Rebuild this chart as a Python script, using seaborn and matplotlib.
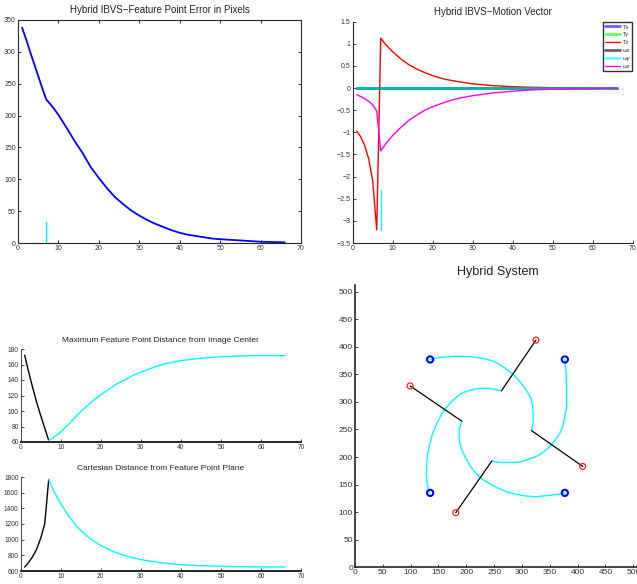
import numpy as np
import pandas as pd
import matplotlib
matplotlib.use("Agg")
import matplotlib.pyplot as plt
from matplotlib.ticker import FuncFormatter
import seaborn as sns

sns.set_style("ticks")
plt.rcParams['font.family'] = ['Liberation Sans', 'DejaVu Sans']
plt.rcParams['axes.unicode_minus'] = True

# ---------------- data ----------------
# Feature point error (pixels)
err_steps = [1, 2, 3, 4, 5, 6, 7, 8, 9, 10, 12, 14, 16, 18, 20, 22, 24, 26, 28, 30,
             32, 34, 36, 38, 40, 42, 45, 48, 50, 55, 60, 66]
err_vals = [338, 320, 300, 281, 262, 243, 225, 218, 210, 201, 181, 160, 141, 119, 102, 86,
            72, 61, 51, 43, 36, 30, 25, 20, 16, 13, 10, 7, 6, 4, 2, 1]

# Motion vector
mv_steps = [1, 2, 3, 4, 5, 6, 7, 8, 9, 10, 12, 14, 16, 18, 20, 23, 26, 30, 35, 40,
            45, 50, 55, 60, 66]
tz_vals = [-0.97, -1.1, -1.3, -1.6, -2.1, -3.2, 1.13, 1.01, 0.91, 0.82, 0.66, 0.53, 0.43,
           0.35, 0.28, 0.2, 0.15, 0.095, 0.055, 0.032, 0.018, 0.01, 0.006, 0.003, 0.001]
wz_vals = [-0.15, -0.19, -0.24, -0.3, -0.38, -0.52, -1.42, -1.29, -1.17, -1.07, -0.89,
           -0.73, -0.61, -0.5, -0.42, -0.32, -0.24, -0.17, -0.11, -0.07, -0.04, -0.025,
           -0.015, -0.008, -0.004]
zero_vals = [0.0] * len(mv_steps)
mv_labels = ['Tx', 'Ty', 'Tz', 'ωx', 'ωy', 'ωz']

# switching step markers
switch_steps = [7, 7]
err_switch_y = [0, 33]
mv_switch_y = [-3.2, -2.3]

# Maximum feature point distance from image center
md_steps_a = [1, 2, 3, 4, 5, 6, 7]
md_vals_a = [172, 150, 130, 111, 94, 78, 62]
md_steps_b = [7, 8, 10, 12, 14, 16, 18, 20, 22, 24, 26, 28, 30, 33, 36, 40, 45, 50, 55, 60, 66]
md_vals_b = [62, 65, 73, 83, 94, 104, 113, 121, 128, 135, 140, 146, 150, 156, 161, 165,
             168, 170, 171, 171.5, 171.5]

# Cartesian distance from feature point plane
cd_steps_a = [1, 2, 3, 4, 5, 6, 7]
cd_vals_a = [650, 710, 785, 880, 1020, 1200, 1770]
cd_steps_b = [7, 8, 9, 10, 12, 14, 16, 18, 20, 23, 26, 30, 35, 40, 45, 50, 55, 60, 66]
cd_vals_b = [1770, 1650, 1550, 1460, 1300, 1170, 1070, 990, 925, 850, 795, 745, 705, 680,
             667, 660, 655, 652, 651]

# Image-plane trajectories
goal_x = [135, 377, 377, 135]
goal_y = [377, 377, 135, 135]
start_x = [325, 99, 181, 409]
start_y = [412, 329, 99, 183]
switch_x = [263, 192, 246, 317]
switch_y = [320, 265, 193, 248]

arcA_x = [263, 250, 235, 218, 200, 189, 176, 165, 155, 147, 140, 135, 131, 129, 128, 129, 131, 134]
arcA_y = [320, 323, 325, 324, 319, 314, 303, 291, 277, 261, 244, 227, 207, 189, 170, 155, 145, 135]
arcB_x = [192, 187, 187, 189, 194, 200, 207, 218, 230, 240, 254, 272, 290, 310, 326, 345, 362, 377]
arcB_y = [265, 249, 235, 222, 208, 196, 183, 170, 159, 153, 145, 137, 132, 129, 128, 130, 132, 135]
arcC_x = [246, 254, 266, 280, 296, 312, 326, 340, 350, 360, 368, 374, 377, 380, 380, 380, 379, 377]
arcC_y = [193, 191, 190, 190, 191, 196, 201, 210, 219, 231, 243, 258, 273, 290, 305, 330, 355, 377]
arcD_x = [317, 320, 320, 319, 316, 311, 303, 295, 284, 270, 258, 248, 230, 207, 185, 165, 148, 135]
arcD_y = [248, 261, 279, 294, 306, 316, 328, 338, 350, 361, 369, 374, 379, 382, 383, 382, 380, 377]

# tick values
err_xticks = list(range(0, 71, 10))
err_yticks = list(range(0, 351, 50))
mv_yticks = [-3.5, -3, -2.5, -2, -1.5, -1, -0.5, 0, 0.5, 1, 1.5]
md_yticks = list(range(60, 181, 20))
cd_yticks = list(range(600, 1801, 200))
img_ticks = list(range(0, 501, 50))

# ---------------- figure ----------------
W, H = 637, 584
fig = plt.figure(figsize=(W / 100, H / 100), dpi=100)


def box(x0, y0, x1, y1):
    return [x0 / W, (H - y1) / H, (x1 - x0) / W, (y1 - y0) / H]


ax1 = fig.add_axes(box(18, 20, 301, 243))
ax2 = fig.add_axes(box(352.7, 21.7, 633, 243))
ax3 = fig.add_axes(box(20.7, 349, 301, 442))
ax4 = fig.add_axes(box(20.7, 477, 301, 571))
ax5 = fig.add_axes(box(355, 285, 640, 567.3))

fmt = FuncFormatter(lambda v, p: ('%g' % v).replace('-', '\u2212'))
tick_col = '#333333'

# --- ax1 ---
sns.lineplot(x=err_steps, y=err_vals, ax=ax1, color='#0000ff', linewidth=1.3,
             estimator=None, sort=False)
sns.lineplot(x=switch_steps, y=err_switch_y, ax=ax1, color='#00ffff', linewidth=1.0,
             estimator=None, sort=False)
ax1.set_xlim(0, 70)
ax1.set_ylim(0, 350)
ax1.set_xticks(err_xticks)
ax1.set_yticks(err_yticks)
ax1.tick_params(direction='in', top=True, right=True, length=2.5, width=0.6,
                labelsize=5, colors='black', labelcolor=tick_col, pad=1.5)
for s in ax1.spines.values():
    s.set_linewidth(0.8)
ax1.set_title('Hybrid IBVS\u2212Feature Point Error in Pixels', fontsize=7, pad=5, color='#222222')

# --- ax2 ---
mv_series = [zero_vals, zero_vals, tz_vals, zero_vals, zero_vals, wz_vals]
mv_colors = ['#0000ff', '#00ff00', '#ff0000', '#000000', '#00ffff', '#ff00ff']
mv_alpha = [0.6, 0.6, 1.0, 0.6, 0.6, 1.0]
mv_lw = [2.0, 2.0, 1.0, 2.0, 2.0, 1.0]
for vals, lab, c, a, lw in zip(mv_series, mv_labels, mv_colors, mv_alpha, mv_lw):
    sns.lineplot(x=mv_steps, y=vals, ax=ax2, color=c, alpha=a, linewidth=lw, label=lab,
                 estimator=None, sort=False)
sns.lineplot(x=switch_steps, y=mv_switch_y, ax=ax2, color='#00ffff', linewidth=1.0,
             estimator=None, sort=False)
ax2.set_xlim(0, 70)
ax2.set_ylim(-3.5, 1.5)
ax2.set_xticks(err_xticks)
ax2.set_yticks(mv_yticks)
ax2.yaxis.set_major_formatter(fmt)
ax2.tick_params(direction='in', length=2.5, width=0.6, labelsize=5, labelcolor=tick_col, pad=1.5)
ax2.spines['top'].set_visible(False)
ax2.spines['right'].set_visible(False)
for s in ['left', 'bottom']:
    ax2.spines[s].set_linewidth(0.8)
ax2.set_title('Hybrid IBVS\u2212Motion Vector', fontsize=7, pad=5, color='#222222')
leg = ax2.legend(loc='upper right', fontsize=4.3, frameon=True, fancybox=False,
                 borderaxespad=0.1, handlelength=2.4, labelspacing=0.45,
                 borderpad=0.35, handletextpad=0.5)
leg.get_frame().set_edgecolor('black')
leg.get_frame().set_linewidth(1.0)
for t in leg.get_texts():
    t.set_color('#333333')

# --- ax3 ---
sns.lineplot(x=md_steps_a, y=md_vals_a, ax=ax3, color='black', linewidth=1.0,
             estimator=None, sort=False)
sns.lineplot(x=md_steps_b, y=md_vals_b, ax=ax3, color='#00ffff', linewidth=1.0,
             estimator=None, sort=False)
ax3.set_xlim(0, 70)
ax3.set_ylim(60, 180)
ax3.set_xticks(err_xticks)
ax3.set_yticks(md_yticks)
ax3.set_title('Maximum Feature Point Distance from Image Center', fontsize=6, pad=5, color='#222222')

# --- ax4 ---
sns.lineplot(x=cd_steps_a, y=cd_vals_a, ax=ax4, color='black', linewidth=1.0,
             estimator=None, sort=False)
sns.lineplot(x=cd_steps_b, y=cd_vals_b, ax=ax4, color='#00ffff', linewidth=1.0,
             estimator=None, sort=False)
ax4.set_xlim(0, 70)
ax4.set_ylim(600, 1800)
ax4.set_xticks(err_xticks)
ax4.set_yticks(cd_yticks)
ax4.set_title('Cartesian Distance from Feature Point Plane', fontsize=6, pad=5, color='#222222')

for ax in (ax3, ax4):
    ax.tick_params(direction='in', length=2.5, width=0.6, labelsize=4.8, labelcolor=tick_col, pad=1.5)
    ax.spines['top'].set_visible(False)
    ax.spines['right'].set_visible(False)
    ax.spines['left'].set_linewidth(0.6)
    ax.spines['bottom'].set_linewidth(1.4)

# --- ax5 ---
for xs, ys in ((arcA_x, arcA_y), (arcB_x, arcB_y), (arcC_x, arcC_y), (arcD_x, arcD_y)):
    sns.lineplot(x=xs, y=ys, ax=ax5, color='#00ffff', linewidth=1.0, estimator=None, sort=False)
for i in range(len(start_x)):
    sns.lineplot(x=[start_x[i], switch_x[i]], y=[start_y[i], switch_y[i]], ax=ax5,
                 color='black', linewidth=0.9, estimator=None, sort=False)
sns.scatterplot(x=start_x, y=start_y, ax=ax5, marker='o', s=18, color='red',
                facecolor='none', edgecolor='#ff2020', linewidth=0.9, zorder=5)
sns.scatterplot(x=goal_x, y=goal_y, ax=ax5, marker='o', s=20, color='blue',
                facecolor='none', edgecolor='#0000ff', linewidth=1.5, zorder=5)
ax5.set_xlim(0, 512)
ax5.set_ylim(0, 512)
ax5.set_xticks(img_ticks)
ax5.set_yticks(img_ticks)
ax5.tick_params(direction='in', length=2.5, width=0.6, labelsize=6, labelcolor=tick_col, pad=1.5)
ax5.spines['top'].set_visible(False)
ax5.spines['right'].set_visible(False)
ax5.spines['left'].set_linewidth(1.2)
ax5.spines['bottom'].set_linewidth(1.2)
ax5.set_title('Hybrid System', fontsize=9, pad=7, color='#222222')

for ax in (ax1, ax2, ax3, ax4, ax5):
    ax.set_xlabel('')
    ax.set_ylabel('')
    ax.grid(False)

fig.savefig('out.png', dpi=100)
